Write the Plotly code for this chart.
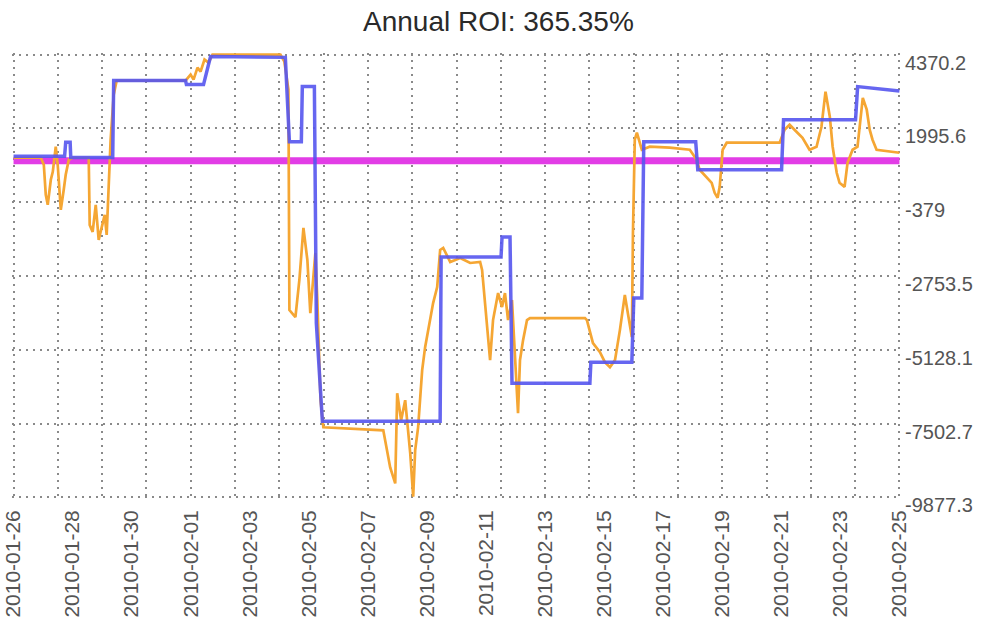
import pandas as pd
import plotly.graph_objects as go

title_text = "Annual ROI: 365.35%"
x_start = "2010-01-26"
x_end = "2010-02-25"

y_tick_values = [4370.2, 1995.6, -379.0, -2753.5, -5128.1, -7502.7, -9877.3]
y_tick_labels = ["4370.2", "1995.6", "-379", "-2753.5", "-5128.1", "-7502.7", "-9877.3"]

baseline_value = 953

# hours after 2010-01-26 00:00
blue_hours = [0, 41.5, 42.4, 46.0, 46.5, 80.6, 81.4, 139.8, 140.5, 154.4, 160.1,
              220.9, 224.2, 233.9, 234.7, 244.5, 246.1, 251.0, 346.7, 347.5,
              396.2, 397.0, 403.5, 405.1, 468.4, 469.2, 502.5, 504.1, 510.6,
              512.2, 554.4, 556.1, 624.2, 625.8, 684.3, 686.0, 720.0]
blue_values = [1100, 1100, 1550, 1550, 1060, 1060, 3532, 3532, 3403, 3403, 4306,
               4280, 1566, 1566, 3339, 3339, -4270, -7427, -7427, -2141,
               -2141, -1496, -1496, -6202, -6202, -5526, -5526, -3463, -3463,
               1566, 1566, 663, 663, 2275, 2275, 3339, 3200]

orange_hours = [0.2, 22.2, 24.6, 26.2, 27.8, 30.3, 31.9, 34.3, 35.9, 38.4, 40.8, 42.4, 44.9, 48.1,
                61.1, 61.9, 64.3, 66.8, 69.2, 71.6, 74.1, 75.7, 77.3, 78.9, 81.4, 83.8,
                139.8, 143.9, 146.3, 149.5, 152.0, 155.2, 158.5, 161.7,
                216.9, 220.1, 223.4, 224.2, 229.1, 232.3, 235.6, 238.8, 241.2, 243.7, 245.3, 246.9, 249.5, 251.8,
                300.5, 306.1, 310.2, 311.8, 315.0, 318.3, 322.4, 324.8, 326.4, 328.8, 332.1, 334.5, 338.6, 341.0, 344.3, 346.7, 349.2,
                354.9, 363.0, 371.1, 379.2, 380.8, 387.3, 389.7, 393.8, 397.0, 399.4, 401.9, 405.1, 407.6, 410.0, 411.6, 414.1, 417.3, 419.7,
                464.4, 466.0, 470.9, 476.6, 480.6, 484.7, 488.8, 492.8, 496.8, 499.3, 502.5, 503.4, 504.9, 506.6, 510.6,
                517.1, 533.3, 549.6, 555.2, 557.6, 563.3, 567.4, 569.8, 572.2, 573.9, 576.3, 579.6,
                622.6, 626.6, 630.7, 636.3, 641.2, 646.9, 652.6, 656.6, 659.9, 663.4, 665.7, 669.0, 671.3, 675.4, 677.8, 681.9, 685.9, 690.2, 693.4, 695.8, 698.1, 701.4, 720.0]
orange_values = [1050, 1050, 825, -143, -465, 341, 597, 1405, 825, -626, 19, 502, 986, 1050,
                 1050, -1110, -1335, -465, -1593, -1206, -787, -1432, 19, 1630, 3081, 3532,
                 3532, 3725, 3564, 3951, 3822, 4209, 4112, 4370,
                 4370, 4145, 3242, -3849, -4075, -2882, -1206, -2238, -3946, -2882, -2012, -3527, -6750, -7621,
                 -7718, -8910, -9426, -6525, -7395, -6750, -8459, -9850, -8362, -7621, -5784, -5042, -4172, -3624, -3108, -1916, -1851,
                 -2302, -2173, -2335, -2302, -2560, -5461, -4172, -3302, -3753, -3302, -4172, -3527, -5461, -7170, -5461, -4817, -4172, -4107,
                 -4107, -4172, -4913, -5203, -5526, -5687, -5461, -4494, -3366, -4011, -4720, -1367, 1630, 1856, 1308,
                 1405, 1373, 1308, 986, 663, 438, 244, -78, -239, 115, 1308, 1534,
                 1534, 1953, 2114, 1888, 1695, 1308, 1405, 2049, 3178, 2372, 1405, 566, 244, 115, 889, 1308, 1405, 2976, 2597, 1953, 1630, 1308, 1211]

t0 = pd.Timestamp(x_start)
blue_x = t0 + pd.to_timedelta(blue_hours, unit="h")
orange_x = t0 + pd.to_timedelta(orange_hours, unit="h")

grid_color = "#8a8a8a"
font_family = "Liberation Sans, Arial, sans-serif"

fig = go.Figure()
# invisible helper trace so the gridline axis (x2) is drawn
fig.add_trace(go.Scatter(x=[x_start], y=[None], xaxis="x2", yaxis="y", mode="lines",
                         showlegend=False, hoverinfo="skip"))
fig.add_trace(go.Scatter(x=[x_start, x_end], y=[baseline_value, baseline_value], mode="lines",
                         line=dict(color="#e23de6", width=7), showlegend=False, hoverinfo="skip"))
fig.add_trace(go.Scatter(x=orange_x, y=orange_values, mode="lines",
                         line=dict(color="#f5a633", width=2.7), showlegend=False))
fig.add_trace(go.Scatter(x=blue_x, y=blue_values, mode="lines",
                         line=dict(color="rgba(85,85,238,0.9)", width=3.5), showlegend=False))

x_range = [t0 - pd.Timedelta(minutes=75), pd.Timestamp(x_end) + pd.Timedelta(minutes=75)]
y_range = [-9877.3 - 50, 4370.2 + 50]

fig.update_layout(
    width=985, height=638,
    margin=dict(l=12, r=84, t=53, b=139, autoexpand=False),
    paper_bgcolor="white", plot_bgcolor="white",
    font=dict(family=font_family, color="#555555", size=21),
    title=dict(text=title_text, x=0.506, xanchor="center", y=0.967, yanchor="middle",
               font=dict(family=font_family, size=28, color="#2a2a2a")),
    xaxis=dict(type="date", range=x_range, tick0=x_start, dtick=2 * 86400000,
               tickformat="%Y-%m-%d", tickangle=-90, showgrid=False, zeroline=False,
               showline=False, ticks="", ticklabelstandoff=6, automargin=False,
               tickfont=dict(size=21, color="#555555")),
    xaxis2=dict(type="date", overlaying="x", matches="x", anchor="y", range=x_range,
                tick0=x_start, dtick=36 * 3600000, showticklabels=False, ticks="",
                showgrid=True, gridcolor=grid_color, gridwidth=1.5, griddash="2px,5px",
                zeroline=False, showline=False, automargin=False),
    yaxis=dict(side="right", range=y_range, tickmode="array",
               tickvals=y_tick_values, ticktext=y_tick_labels, showgrid=True,
               gridcolor=grid_color, gridwidth=1.5, griddash="2px,5px",
               zeroline=False, showline=False, ticks="", ticklabelshift=8,
               ticklabelstandoff=3, automargin=False,
               tickfont=dict(size=20, color="#555555")),
)

fig.write_html("out.html", config={"displayModeBar": False},
               post_script="document.body.style.margin='0';document.body.style.overflow='hidden';")
